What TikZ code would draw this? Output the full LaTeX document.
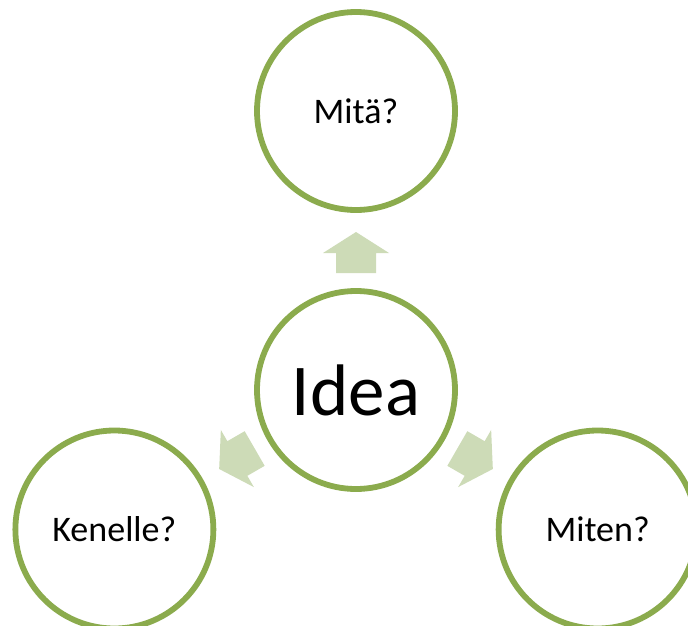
\documentclass[tikz,border=0pt]{standalone}
\usepackage{fontspec}
\setmainfont{Carlito}
\definecolor{ringgreen}{RGB}{139,171,77}
\definecolor{arrowgreen}{RGB}{205,219,183}
\begin{document}
\begin{tikzpicture}[x=1pt,y=-1pt,
  ring/.style={circle,draw=ringgreen,line width=5.8pt,minimum size=198pt,inner sep=0pt,fill=white,font=\fontsize{36}{40}\selectfont},
  fatarrow/.style={fill=arrowgreen,draw=none}]
\useasboundingbox (0,0) rectangle (688,626);
\node[ring] (idea) at (356,390) {\fontsize{73}{80}\selectfont Idea};
\node[ring] (mita) at ([shift={(90:279pt)}]idea.center) {Mitä?};
\node[ring] (kenelle) at ([shift={(210:279pt)}]idea.center) {Kenelle?};
\node[ring] (miten) at ([shift={(330:279pt)}]idea.center) {Miten?};
\foreach \ang in {90,210,330}{
  \begin{scope}[shift={(idea.center)},rotate=\ang,y=1pt]
    \fill[fatarrow] (117,-20) -- (137,-20) -- (137,-33) -- (158,0) -- (137,33) -- (137,20) -- (117,20) -- cycle;
  \end{scope}
}
\end{tikzpicture}
\end{document}
